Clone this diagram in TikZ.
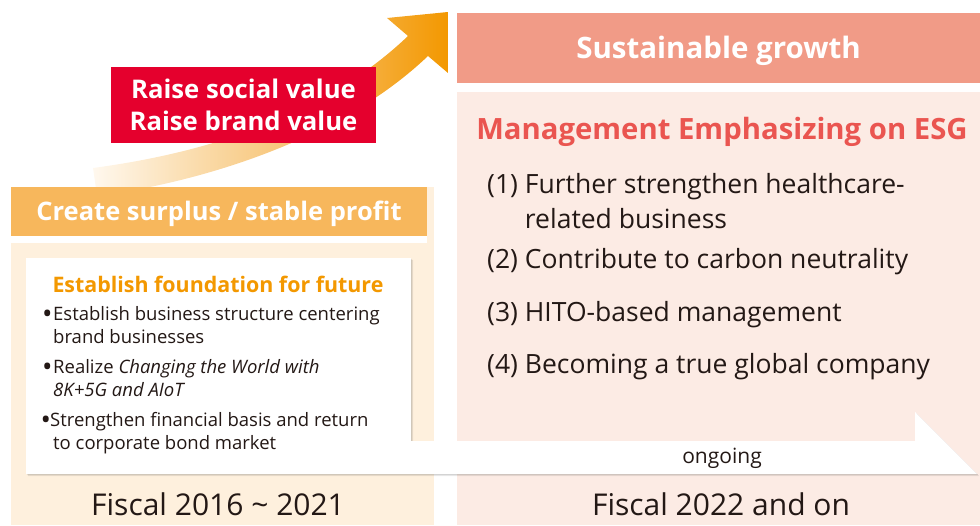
\documentclass[tikz,border=0pt]{standalone}
\usepackage{fontspec}
\setmainfont{Open Sans}
\usetikzlibrary{shadows}

\definecolor{ink}{HTML}{231815}
\definecolor{headorange}{HTML}{F7B75C}
\definecolor{creambg}{HTML}{FEF0DD}
\definecolor{salmon}{HTML}{F19B87}
\definecolor{pinkbg}{HTML}{FCEBE4}
\definecolor{valuered}{HTML}{E5002D}
\definecolor{esgred}{HTML}{EA5550}
\definecolor{titleorange}{HTML}{F39800}
\definecolor{arwA}{HTML}{FFF8EE}
\definecolor{arwB}{HTML}{FADBAA}
\definecolor{arwC}{HTML}{F7C271}
\definecolor{arwD}{HTML}{F39800}

% colour ramp of the rising arrow, from its faded tail to its head
\pgfdeclarehorizontalshading{risefade}{100bp}{color(0bp)=(arwA); color(25bp)=(arwA);
  color(40bp)=(arwB); color(54bp)=(arwC); color(75bp)=(arwD); color(100bp)=(arwD)}

% enlarged list bullet, kept on the middle of the capitals
\newcommand\dotmark{\raisebox{-3.2pt}{\scalebox{1.5}{•}}}

\begin{document}
\begin{tikzpicture}[x=1pt,y=-1pt,
  banner/.style={rectangle, inner sep=0pt, text=white, text height=0.714*#1 pt, text depth=0pt,
    font=\bfseries\fontsize{#1}{#1}\selectfont},
  bul/.style={anchor=base west, align=left, inner sep=0pt, text=ink, font=\fontsize{18.5}{23}\selectfont},
  goal/.style={anchor=base west, align=left, inner sep=0pt, text=ink, font=\fontsize{26.5}{35}\selectfont},
  period/.style={anchor=base, inner sep=0pt, text=ink, font=\fontsize{30}{30}\selectfont}]
\useasboundingbox (0,0) rectangle (980,525);

% rising arrow behind the left column
\shade[shading=risefade]
  (93,168) .. controls (198,154) and (320,120) .. (408,36)
  -- (387,18) -- (448,12) -- (448,73) -- (428,56)
  .. controls (340,140) and (202,182) .. (97,196) -- cycle;

% left column: background and header
\fill[creambg] (11,187) rectangle (434,525);
\fill[white] (11,236) rectangle (427,243);
\node[banner=25.5, fill=headorange, minimum width=416pt, minimum height=49pt]
  (surplus) at (219,211.5) {Create surplus / stable profit};

% right column: header and background
\node[banner=29.5, fill=salmon, minimum width=523pt, minimum height=70pt]
  (growth) at (718.5,48) {Sustainable growth};
\fill[pinkbg] (457,92) rectangle (980,525);

% red value box
\node[rectangle, inner sep=0pt, text=white, fill=valuered, minimum width=265pt, minimum height=76pt,
  align=center, font=\bfseries\fontsize{25.7}{32}\selectfont]
  (values) at (243.5,105) {Raise social value\\Raise brand value};

% white card that runs on as the "ongoing" arrow
\foreach \d/\o in {3.5/0.05, 2.5/0.07, 1.5/0.09}{
  \fill[black, opacity=\o, xshift=\d*0.6pt, yshift=-\d*0.6pt]
    (26,258) -- (411,258) -- (411,441) -- (915,441) -- (915,412) -- (977,474) -- (26,474) -- cycle;
}
\fill[white]
  (26,258) -- (411,258) -- (411,441) -- (915,441) -- (915,412) -- (977,474) -- (26,474) -- cycle;

\node[anchor=base, inner sep=0pt, text=titleorange, font=\bfseries\fontsize{21.4}{21.4}\selectfont]
  (found) at (218,292) {Establish foundation for future};
\node[bul] (b1) at (40,343) {\makebox[13pt][l]{\hspace{2pt}\dotmark}Establish business structure centering\\\hspace*{13pt}brand businesses};
\node[bul] (b2) at (40,396) {\makebox[13pt][l]{\hspace{2pt}\dotmark}Realize \textit{Changing the World with}\\\hspace*{13pt}\textit{8K+5G and AIoT}};
\node[bul] (b3) at (40,449) {\makebox[10pt][l]{\hspace{0.5pt}\dotmark}Strengthen financial basis and return\\\hspace*{13pt}to corporate bond market};

\node[anchor=base, inner sep=0pt, text=ink, font=\fontsize{21}{21}\selectfont] (ongoing) at (722,463) {ongoing};

% right column content
\node[anchor=base, inner sep=0pt, text=esgred, font=\bfseries\fontsize{29.3}{29.3}\selectfont]
  (esg) at (722,139) {Management Emphasizing on ESG};
\node[goal] (g1) at (487,193) {\begin{tabular}[t]{@{}l@{\ }l@{}}(1)&Further strengthen healthcare-\\&related business\end{tabular}};
\node[goal] (g2) at (487,268) {(2) Contribute to carbon neutrality};
\node[goal] (g3) at (487,321) {(3) HITO-based management};
\node[goal] (g4) at (487,373) {(4) Becoming a true global company};

% periods
\node[period] (past) at (218,515) {Fiscal 2016 \char`~{} 2021};
\node[period] (future) at (721,515) {Fiscal 2022 and on};
\end{tikzpicture}
\end{document}
